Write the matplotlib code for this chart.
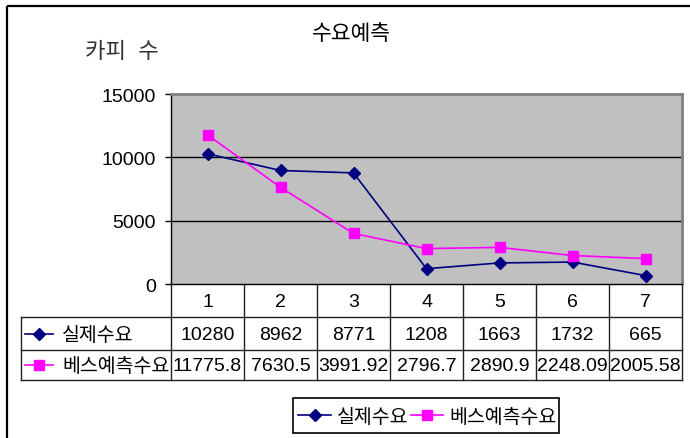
import matplotlib
matplotlib.use("Agg")
import matplotlib.pyplot as plt
from matplotlib.lines import Line2D
from matplotlib.patches import Rectangle

plt.rcParams['font.family'] = ['Liberation Sans', 'Noto Sans CJK KR']

# --- data ---------------------------------------------------------------
periods = [1, 2, 3, 4, 5, 6, 7]
actual = [10280, 8962, 8771, 1208, 1663, 1732, 665]
forecast = [11775.8, 7630.5, 3991.92, 2796.7, 2890.9, 2248.09, 2005.58]
series_names = ['실제수요', '베스예측수요']
title = '수요예측'
ylabel = '카피  수'
yticks = [0, 5000, 10000, 15000]

NAVY = '#000080'
MAGENTA = '#FF00FF'
FS = 14
D_MS, S_MS = 6, 7

W, H = 690, 439
fig = plt.figure(figsize=(W / 100, H / 100), dpi=100)

# overlay in pixel coordinates for frame, table and legend
ov = fig.add_axes([0, 0, 1, 1])
ov.set_xlim(0, W)
ov.set_ylim(H, 0)
ov.axis('off')

# plot area
L, T, R, B = 171, 95, 682, 285
ax = fig.add_axes([L / W, 1 - B / H, (R - L) / W, (B - T) / H])
ax.set_facecolor('#C0C0C0')
ax.set_xlim(0.5, len(periods) + 0.5)
ax.set_ylim(0, 15000)
ax.set_yticks(yticks)
ax.set_yticklabels([str(v) for v in yticks], fontsize=FS)
ax.tick_params(axis='y', length=4, width=1, color='black', pad=7)
ax.set_xticks([])
for y in yticks[1:-1]:
    ax.axhline(y, color='black', lw=1, zorder=1)
for s in ['top', 'right']:
    ax.spines[s].set_color('#808080')
    ax.spines[s].set_linewidth(2)
ax.spines['left'].set_color('black')
ax.spines['bottom'].set_color('black')
ax.spines['left'].set_linewidth(1)
ax.spines['bottom'].set_linewidth(1)

ax.plot(periods, actual, color=NAVY, lw=1.2, marker='D', ms=D_MS,
        mfc=NAVY, mec=NAVY, zorder=3, clip_on=False)
ax.plot(periods, forecast, color=MAGENTA, lw=1.2, marker='s', ms=S_MS,
        mfc=MAGENTA, mec=MAGENTA, zorder=4, clip_on=False)

# titles
ov.text(351, 34, title, fontsize=15.5, ha='center', va='center')
ov.text(122, 52, ylabel, fontsize=16, ha='center', va='center',
        color='#333333', fontweight='light')

# outer chart frame
ov.add_patch(Rectangle((7, 7), W + 10, H + 10, fill=False, ec='black', lw=1.6))

# data table
colw = (R - L) / len(periods)
row_y = [B, 318, 351, 381]
lk = dict(color='#222222', lw=1)
ov.plot([21, R], [row_y[1], row_y[1]], **lk)
ov.plot([21, R], [row_y[2], row_y[2]], **lk)
ov.plot([21, R], [row_y[3], row_y[3]], **lk)
ov.plot([21, 21], [row_y[1], row_y[3]], **lk)
for k in range(len(periods) + 1):
    x = L + k * colw
    ov.plot([x, x], [B, row_y[3]], **lk)

for i, p in enumerate(periods):
    cx = L + (i + 0.5) * colw
    ov.text(cx, (row_y[0] + row_y[1]) / 2 + 1, str(p), fontsize=FS,
            ha='center', va='center')
    ov.text(cx, (row_y[1] + row_y[2]) / 2 + 1, f'{actual[i]:g}', fontsize=FS,
            ha='center', va='center')
    ov.text(cx, (row_y[2] + row_y[3]) / 2 + 1, f'{forecast[i]:g}', fontsize=FS,
            ha='center', va='center')


def legend_key(x0, x1, y, color, marker, ms):
    ov.add_line(Line2D([x0, x1], [y, y], color=color, lw=1.2))
    ov.add_line(Line2D([(x0 + x1) / 2], [y], marker=marker, ms=ms,
                       mfc=color, mec=color, color=color))


y1 = (row_y[1] + row_y[2]) / 2
y2 = (row_y[2] + row_y[3]) / 2
legend_key(25, 53, y1, NAVY, 'D', D_MS)
legend_key(25, 53, y2, MAGENTA, 's', S_MS)
ov.text(62, y1 + 1, series_names[0], fontsize=FS, ha='left', va='center')
ov.text(62, y2 + 1, series_names[1], fontsize=FS, ha='left', va='center')

# legend box
ov.add_patch(Rectangle((293, 399), 266, 35, fill=False, ec='black', lw=1.2))
ly = 416.5
legend_key(298, 331, ly, NAVY, 'D', D_MS)
ov.text(337, ly + 1, series_names[0], fontsize=FS, ha='left', va='center')
legend_key(411, 443, ly, MAGENTA, 's', S_MS)
ov.text(449, ly + 1, series_names[1], fontsize=FS, ha='left', va='center')

fig.savefig('out.png', dpi=100)
